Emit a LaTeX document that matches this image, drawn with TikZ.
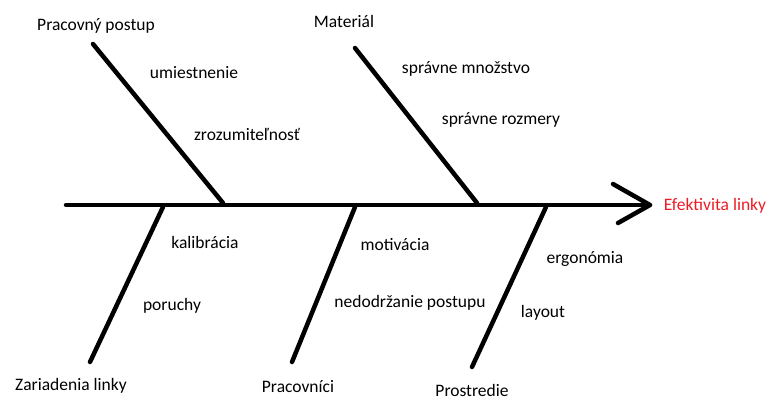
\documentclass[tikz,border=0pt]{standalone}
\usepackage{fontspec}
\setmainfont{Carlito}
\definecolor{effred}{RGB}{237,28,36}
\begin{document}
\begin{tikzpicture}[x=1pt,y=-1pt,
  bone/.style={line width=4.5pt,line cap=round,line join=round},
  lbl/.style={inner sep=0pt,anchor=base,font=\fontsize{17.5}{19}\selectfont}]
\useasboundingbox (0,0) rectangle (771,399);
% spine
\coordinate (tail) at (66,205);
\coordinate (tip) at (650,205);
\coordinate (hu) at (613,184);
\coordinate (hl) at (618,223);
\draw[bone] (tail) -- (tip);
\draw[bone] (hu) -- (tip) -- (hl);
% upper bones
\coordinate (b1t) at (93,44);   \coordinate (b1s) at (223,203);
\coordinate (b2t) at (355,48);  \coordinate (b2s) at (477,203);
\draw[bone] (b1t) -- (b1s);
\draw[bone] (b2t) -- (b2s);
% lower bones
\coordinate (b3s) at (163,207); \coordinate (b3b) at (90,362);
\coordinate (b4s) at (355,207); \coordinate (b4b) at (292,362);
\coordinate (b5s) at (546,207); \coordinate (b5b) at (472,367);
\draw[bone] (b3s) -- (b3b);
\draw[bone] (b4s) -- (b4b);
\draw[bone] (b5s) -- (b5b);
% labels
\node[lbl] (l1) at (96,30) {Pracovný postup};
\node[lbl] (l2) at (344,27) {Materiál};
\node[lbl] (l3) at (194,78) {umiestnenie};
\node[lbl] (l4) at (247,140) {zrozumiteľnosť};
\node[lbl] (l5) at (466,73) {správne množstvo};
\node[lbl] (l6) at (501,124) {správne rozmery};
\node[lbl,text=effred] (eff) at (715,210) {Efektivita linky};
\node[lbl] (l7) at (205,248) {kalibrácia};
\node[lbl] (l8) at (172,310) {poruchy};
\node[lbl] (l9) at (71,390) {Zariadenia linky};
\node[lbl] (l10) at (395,250) {motivácia};
\node[lbl] (l11) at (410,307) {nedodržanie postupu};
\node[lbl] (l12) at (298,392) {Pracovníci};
\node[lbl] (l13) at (585,263) {ergonómia};
\node[lbl] (l14) at (543,317) {layout};
\node[lbl] (l15) at (472,396) {Prostredie};
\end{tikzpicture}
\end{document}
